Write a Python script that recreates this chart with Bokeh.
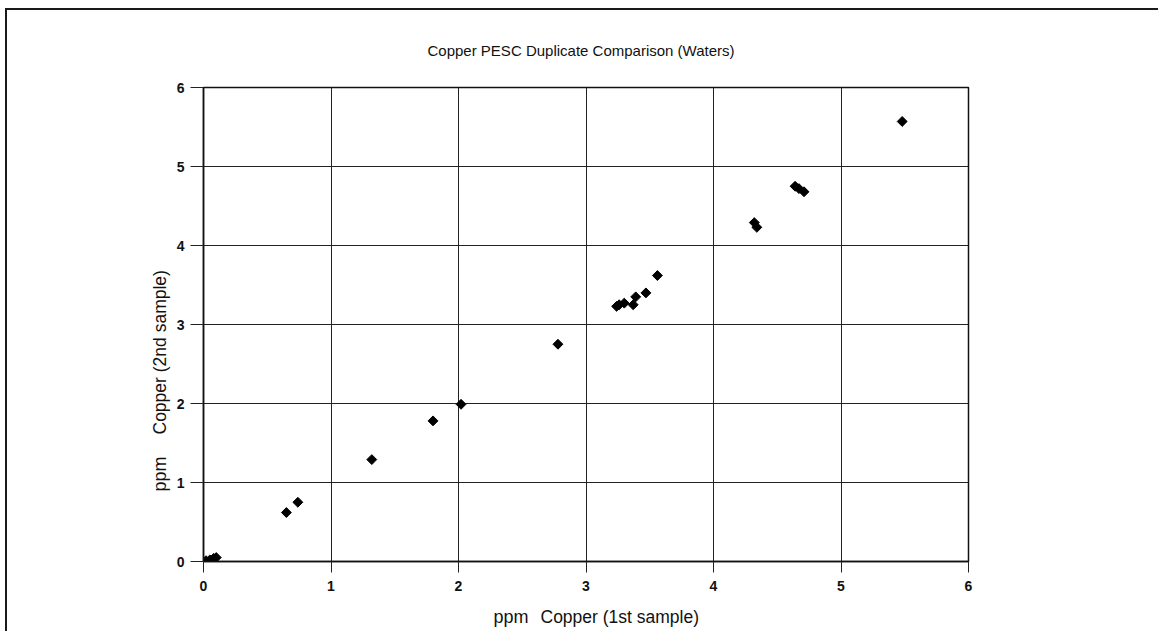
import math
from bokeh.plotting import figure
from bokeh.models import Range1d, Label, FixedTicker, Title
from bokeh.embed import file_html
from bokeh.resources import INLINE

# data (ppm copper)
first_sample = [0.02, 0.05, 0.08, 0.10, 0.65, 0.74, 1.32, 1.80, 2.02, 2.78,
                3.24, 3.26, 3.30, 3.37, 3.39, 3.47, 3.56, 4.32, 4.34, 4.64,
                4.67, 4.71, 5.48]
second_sample = [0.01, 0.02, 0.04, 0.05, 0.62, 0.75, 1.29, 1.78, 1.99, 2.75,
                 3.23, 3.25, 3.27, 3.25, 3.35, 3.40, 3.62, 4.29, 4.23, 4.75,
                 4.72, 4.68, 5.57]
ticks = [0, 1, 2, 3, 4, 5, 6]

title_text = "Copper PESC Duplicate Comparison (Waters)"
x_unit = "ppm"
x_label = "Copper (1st sample)"
y_unit = "ppm"
y_label = "Copper (2nd sample)"

FONT = "Liberation Sans"

p = figure(width=1153, height=623, output_backend="svg", toolbar_location=None,
           x_range=Range1d(0, 6), y_range=Range1d(0, 6),
           min_border_left=196, min_border_right=192,
           min_border_top=77, min_border_bottom=72)
p.styles = {"border-top": "2px solid #1a1a1a", "border-left": "2px solid #1a1a1a",
            "border-right": "none", "border-bottom": "none",
            "margin-left": "5px", "margin-top": "8px"}
p.background_fill_color = "white"
p.border_fill_color = "white"
p.outline_line_color = "#111111"
p.outline_line_width = 1.5

for ax in (p.xaxis, p.yaxis):
    ax.ticker = FixedTicker(ticks=ticks)
    ax.minor_tick_line_color = None
    ax.major_tick_in = 0
    ax.axis_line_color = "#111111"
    ax.axis_line_width = 1.5
    ax.major_tick_line_color = "#222222"
    ax.major_label_text_font = FONT
    ax.major_label_text_font_style = "bold"
    ax.major_label_text_font_size = "14px"
    ax.major_label_text_color = "#111111"
p.xaxis.major_tick_out = 11
p.xaxis.major_label_standoff = 8
p.yaxis.major_tick_out = 13
p.yaxis.major_label_standoff = 6

p.grid.grid_line_color = "#222222"
p.grid.grid_line_width = 1

p.scatter(first_sample, second_sample, marker="square", angle=math.pi / 4,
          size=7, color="black")

p.title = Title(text=title_text, align="left", text_font=FONT,
                text_font_size="15px", text_font_style="normal",
                text_color="#111111", standoff=57, offset=224)

p.add_layout(Label(x=290, y=-3, x_units="screen", y_units="screen",
                   text=x_unit, text_align="left", text_baseline="middle",
                   text_font=FONT, text_font_size="18px", text_color="#111111"),
             "below")
p.add_layout(Label(x=337, y=17, x_units="screen", y_units="screen",
                   text=x_label, text_align="left", text_baseline="middle",
                   text_font=FONT, text_font_size="17.5px", text_color="#111111"),
             "below")

p.add_layout(Label(x=6, y=70, x_units="screen", y_units="screen",
                   text=y_unit, text_align="left", text_baseline="middle",
                   angle=math.pi / 2,
                   text_font=FONT, text_font_size="18px", text_color="#111111"),
             "left")
p.add_layout(Label(x=26, y=127, x_units="screen", y_units="screen",
                   text=y_label, text_align="left", text_baseline="middle",
                   angle=math.pi / 2,
                   text_font=FONT, text_font_size="17.5px", text_color="#111111"),
             "left")

open("out.html", "w").write(file_html(p, INLINE))
